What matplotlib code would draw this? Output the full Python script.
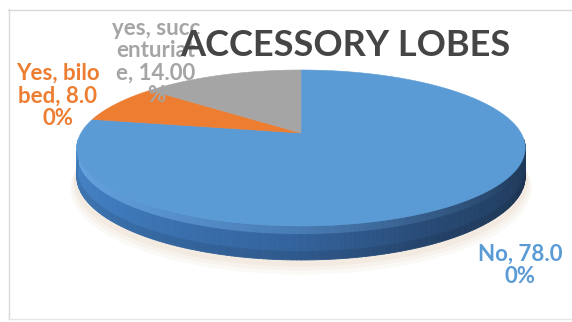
import numpy as np
import matplotlib
matplotlib.use("Agg")
import matplotlib.pyplot as plt
from matplotlib.collections import PolyCollection
from matplotlib.patches import Polygon
import matplotlib.colors as mcolors

# ---- data ----
categories = ["No", "Yes, bilobed", "yes, succenturiate"]
values = [78.00, 8.00, 14.00]
slice_colors = ["#5B9BD5", "#ED7D31", "#A5A5A5"]
label_colors = ["#5B9BD5", "#ED7D31", "#A5A5A5"]
# character positions where each data label wraps
label_breaks = [[8], [9, 17], [9, 17, 25]]
title = "ACCESSORY LOBES"

W, H = 572, 322
fig = plt.figure(figsize=(W / 100, H / 100), dpi=100)
ax = fig.add_axes([0, 0, 1, 1])
ax.set_xlim(0, W)
ax.set_ylim(H, 0)
ax.axis("off")

# ---- perspective projection of a flat disc (theta clockwise from 12 o'clock) ----
CX, CY = 301, 133
A, B, K, T = 220, 75.1, 0.192, 27.5


def proj(theta, h=0.0, r=1.0):
    u = r * np.sin(theta)
    v = -r * np.cos(theta)
    w = 1 - K * v
    return CX + A * u / w, CY + (B * v + T * h) / w


total = float(sum(values))
bounds = np.concatenate([[0], np.cumsum(values) / total * 2 * np.pi])

# soft shadow under the disc
full = np.linspace(0, 2 * np.pi, 361)
for off, alpha in [(11, 0.12), (8, 0.16), (5, 0.2)]:
    xs, ys = proj(full, 1.0, 1.0 + off / 400)
    ax.add_patch(Polygon(np.c_[xs, ys + off], closed=True, fc="#E3D2BC",
                         ec="none", alpha=alpha, zorder=1))

# ---- side wall (front half only) ----
wall_stops = np.array([90, 150, 180, 230, 270])
wall_cols = np.array([mcolors.to_rgb(c) for c in
                      ["#1B324E", "#274973", "#33629B", "#3F7BBD", "#4A88C8"]])
hl = np.array(mcolors.to_rgb("#78B6EE"))


def wall_color(deg, h):
    base = np.array([np.interp(deg, wall_stops, wall_cols[:, i]) for i in range(3)])
    hw = np.clip((deg - 120) / 150, 0, 1) * 0.75
    if h < 0.25:
        base = base * (1 - hw) + hl * hw
    elif h > 0.75:
        base = base * 0.9
    return base


polys, cols = [], []
h_levels = [0.0, 0.1, 0.25, 0.75, 1.0]
for i in range(len(values)):
    lo = max(bounds[i], np.radians(95))
    hi = min(bounds[i + 1], np.radians(265))
    if hi <= lo:
        continue
    th = np.linspace(lo, hi, max(int(np.degrees(hi - lo)), 2) + 1)
    for a0, a1 in zip(th[:-1], th[1:]):
        deg = np.degrees((a0 + a1) / 2)
        for h0, h1 in zip(h_levels[:-1], h_levels[1:]):
            x0, y0 = proj(a0, h0)
            x1, y1 = proj(a1, h0)
            x2, y2 = proj(a1, h1)
            x3, y3 = proj(a0, h1)
            polys.append([(x0, y0), (x1, y1), (x2, y2), (x3, y3)])
            c = wall_color(deg, (h0 + h1) / 2)
            if i != 0:
                c = np.array(mcolors.to_rgb(slice_colors[i])) * 0.7
            cols.append(c)
ax.add_collection(PolyCollection(polys, facecolors=cols, edgecolors=cols,
                                 linewidths=0.6, zorder=2))

# ---- top face wedges ----
for i in range(len(values)):
    th = np.linspace(bounds[i], bounds[i + 1], 200)
    xs, ys = proj(th)
    pts = np.r_[[proj(0, 0, 0)], np.c_[xs, ys]]
    ax.add_patch(Polygon(pts, closed=True, fc=slice_colors[i], ec=slice_colors[i],
                         lw=0.4, zorder=3))

# ---- data labels ----
label_pos = [(520, 265), (58, 96), (156, 62)]
for i in range(len(values)):
    text = f"{categories[i]}, {values[i]:.2f}%"
    cuts = [0] + label_breaks[i] + [len(text)]
    lines = [text[a:b] for a, b in zip(cuts[:-1], cuts[1:])]
    ax.text(*label_pos[i], "\n".join(lines), ha="center", va="center",
            color=label_colors[i], fontsize=16, fontweight="bold",
            family="Lato", linespacing=1.08, zorder=4)

# ---- title ----
ax.text(345, 45, title, ha="center", va="center", color="#454545",
        fontsize=26, fontweight="bold", family="Lato", zorder=5)

# ---- chart frame ----
ax.plot([8.5, 8.5], [9, 319], color="#D9D9D9", lw=1, zorder=0)
ax.plot([8, W], [9.5, 9.5], color="#D9D9D9", lw=1, zorder=0)
ax.plot([8, W], [319, 319], color="#E6E6E6", lw=1, zorder=0)

fig.savefig("out.png", dpi=100, facecolor="white")
